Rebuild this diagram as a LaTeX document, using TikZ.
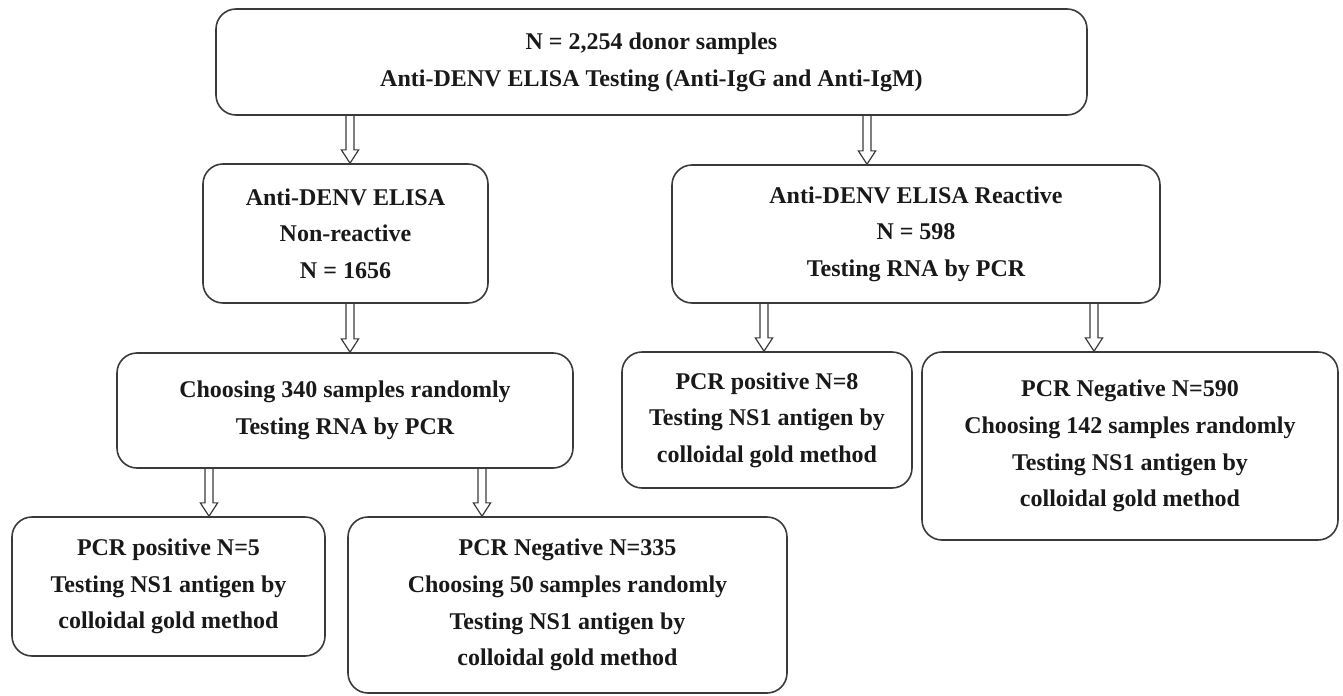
\documentclass[tikz,border=0pt]{standalone}
\usepackage{fontspec}
\setmainfont{Liberation Serif}
\usetikzlibrary{calc}
\definecolor{boxline}{RGB}{58,58,58}
\definecolor{txt}{RGB}{25,25,25}

% hollow down arrow: from node, to node, x position
\newcommand{\hollowarrow}[3]{%
  \draw[arrowline] let \p1=(#1.south), \p2=(#2.north) in
    (#3*0.75pt-3pt,\y1) -- (#3*0.75pt-3pt,\y2+10pt) -- (#3*0.75pt-6.5pt,\y2+10pt) -- (#3*0.75pt,\y2)
    -- (#3*0.75pt+6.5pt,\y2+10pt) -- (#3*0.75pt+3pt,\y2+10pt) -- (#3*0.75pt+3pt,\y1);}

\begin{document}
\begin{tikzpicture}[x=0.75pt,y=-0.75pt,
  box/.style={draw=boxline, line width=1.2pt, rounded corners=15pt, align=center, text=txt,
    font=\bfseries\fontsize{18}{27.5}\selectfont, inner sep=0pt},
  sz/.style 2 args={minimum width=#1*0.75pt, minimum height=#2*0.75pt},
  arrowline/.style={draw=boxline, line width=0.9pt, line join=miter}]
\useasboundingbox (0,0) rectangle (1343,696);

% Text Node
\node[box, sz={871}{106}] (donors) at (651.5,62) {N = 2,254 donor samples\\Anti-DENV ELISA Testing (Anti-IgG and Anti-IgM)};
% Text Node
\node[box, sz={285}{139}] (nonreact) at (345.5,233.5) {Anti-DENV ELISA\\Non-reactive\\N = 1656};
% Text Node
\node[box, sz={488}{138}] (react) at (916,234) {Anti-DENV ELISA Reactive\\N = 598\\Testing RNA by PCR};
% Text Node
\node[box, sz={456}{115}] (choose) at (345,410.5) {Choosing 340 samples randomly\\Testing RNA by PCR};
% Text Node
\node[box, sz={313}{139}] (posleft) at (168.5,586.5) {PCR positive N=5\\Testing NS1 antigen by\\colloidal gold method};
% Text Node
\node[box, sz={439}{176}] (negleft) at (567.5,605) {PCR Negative N=335\\Choosing 50 samples randomly\\Testing NS1 antigen by\\colloidal gold method};
% Text Node
\node[box, sz={290}{136}] (posright) at (767,420) {PCR positive N=8\\Testing NS1 antigen by\\colloidal gold method};
% Text Node
\node[box, sz={416}{188}] (negright) at (1130,446) {PCR Negative N=590\\Choosing 142 samples randomly\\Testing NS1 antigen by\\colloidal gold method};

% Arrows
\hollowarrow{donors}{nonreact}{350}
\hollowarrow{donors}{react}{867}
\hollowarrow{nonreact}{choose}{350}
\hollowarrow{choose}{posleft}{209}
\hollowarrow{choose}{negleft}{482}
\hollowarrow{react}{posright}{764}
\hollowarrow{react}{negright}{1094}
\end{tikzpicture}
\end{document}
